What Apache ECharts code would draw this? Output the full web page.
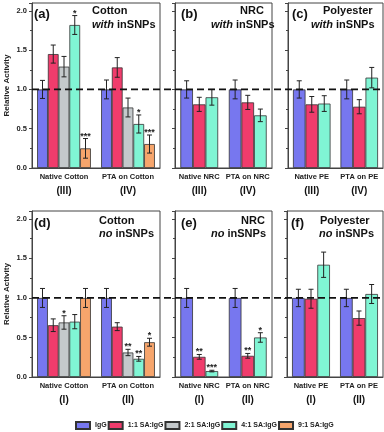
<!DOCTYPE html>
<html><head><meta charset="utf-8">
<script src="https://cdn.jsdelivr.net/npm/echarts@6/dist/echarts.min.js"></script>
<style>html,body{margin:0;padding:0;background:#fff}#c{width:384px;height:432px}</style>
</head><body><div id="c"></div>
<script>
// ---- data ----
var seriesNames = ['IgG', '1:1 SA:IgG', '2:1 SA:IgG', '4:1 SA:IgG', '9:1 SA:IgG'];
var seriesColors = ['#7777ef', '#f03c6c', '#c4c9cb', '#80f5d4', '#f6a56c'];
var yTicks = [0, 0.5, 1.0, 1.5, 2.0];

var catCotton = ['Native Cotton', 'PTA on Cotton'];
var catNRC = ['Native NRC', 'PTA on NRC'];
var catPE = ['Native PE', 'PTA on PE'];
var romanWith = ['(III)', '(IV)'];
var romanNo = ['(I)', '(II)'];

// panel (a) Cotton with inSNPs: series IgG,1:1,2:1,4:1,9:1; values per series [Native, PTA]
var aVals = [[1.0, 1.0], [1.45, 1.28], [1.29, 0.77], [1.82, 0.56], [0.25, 0.305]];
var aErr  = [[0.115, 0.12], [0.115, 0.125], [0.13, 0.12], [0.12, 0.115], [0.125, 0.115]];
var aStar = [['', ''], ['', ''], ['', ''], ['*', '*'], ['***', '***']];
// panel (b) NRC with inSNPs: IgG,1:1,4:1
var bVals = [[1.0, 1.0], [0.81, 0.835], [0.90, 0.67]];
var bErr  = [[0.11, 0.12], [0.09, 0.09], [0.10, 0.08]];
var bStar = [['', ''], ['', ''], ['', '']];
// panel (c) Polyester with inSNPs
var cVals = [[1.0, 1.0], [0.81, 0.78], [0.82, 1.15]];
var cErr  = [[0.11, 0.12], [0.10, 0.09], [0.10, 0.13]];
var cStar = [['', ''], ['', ''], ['', '']];
// panel (d) Cotton no inSNPs
var dVals = [[1.0, 1.0], [0.655, 0.637], [0.69, 0.31], [0.70, 0.23], [1.0, 0.44]];
var dErr  = [[0.12, 0.12], [0.08, 0.05], [0.085, 0.04], [0.09, 0.03], [0.12, 0.05]];
var dStar = [['', ''], ['', ''], ['*', '**'], ['', '**'], ['', '*']];
// panel (e) NRC no inSNPs
var eVals = [[1.0, 1.0], [0.255, 0.268], [0.075, 0.50]];
var eErr  = [[0.12, 0.12], [0.03, 0.03], [0.01, 0.06]];
var eStar = [['', ''], ['**', '**'], ['***', '*']];
// panel (f) Polyester no inSNPs
var fVals = [[1.0, 1.0], [0.99, 0.745], [1.42, 1.05]];
var fErr  = [[0.11, 0.11], [0.12, 0.09], [0.16, 0.12]];
var fStar = [['', ''], ['', ''], ['', '']];

var refLine = 1.0;

// ---- build ----
var panels = [
  {cats: catCotton, roman: romanWith, vals: aVals, err: aErr, star: aStar, ser: [0,1,2,3,4], left: 32, width: 128, top: 3, height: 165, ylab: true, gap: 0.16},
  {cats: catNRC, roman: romanWith, vals: bVals, err: bErr, star: bStar, ser: [0,1,3], left: 175, width: 97, top: 3, height: 165, ylab: false, gap: 0.22},
  {cats: catPE, roman: romanWith, vals: cVals, err: cErr, star: cStar, ser: [0,1,3], left: 288, width: 95, top: 3, height: 165, ylab: false, gap: 0.21},
  {cats: catCotton, roman: romanNo, vals: dVals, err: dErr, star: dStar, ser: [0,1,2,3,4], left: 32, width: 128, top: 211, height: 166, ylab: true, gap: 0.16},
  {cats: catNRC, roman: romanNo, vals: eVals, err: eErr, star: eStar, ser: [0,1,3], left: 175, width: 97, top: 211, height: 166, ylab: false, gap: 0.22},
  {cats: catPE, roman: romanNo, vals: fVals, err: fErr, star: fStar, ser: [0,1,3], left: 287, width: 96, top: 211, height: 166, ylab: false, gap: 0.21}
];

var FONT = 'Liberation Sans, Arial, sans-serif';
var grids = [], xAxes = [], yAxes = [], series = [];

panels.forEach(function (p, pi) {
  grids.push({left: p.left, width: p.width, top: p.top, height: p.height, show: true, borderColor: '#444', borderWidth: 1, containLabel: false});
  (function (cats, roman) {
    xAxes.push({
      type: 'category', gridIndex: pi, data: cats,
      axisLine: {lineStyle: {color: '#444', width: 1}},
      axisTick: {alignWithLabel: true, length: 3, lineStyle: {color: '#444'}},
      axisLabel: {
        margin: 3, color: '#222', fontFamily: FONT, interval: 0,
        formatter: function (v, idx) { return '{a|' + v + '}\n{b|' + roman[idx] + '}'; },
        rich: {a: {fontSize: 7.5, fontWeight: 'bold', lineHeight: 11, fontFamily: FONT, color: '#222'},
               b: {fontSize: 10, fontWeight: 'bold', lineHeight: 18, fontFamily: FONT, color: '#111'}}
      }
    });
  })(p.cats, p.roman);
  yAxes.push({
    type: 'value', gridIndex: pi, min: 0, max: 2.1, interval: 0.5,
    name: p.ylab ? 'Relative Activity' : '', nameLocation: 'middle', nameGap: 21,
    nameTextStyle: {fontSize: 8, fontWeight: 'bold', fontFamily: FONT, color: '#222'},
    axisLine: {show: true, lineStyle: {color: '#444', width: 1}},
    axisTick: {show: true, length: 3, lineStyle: {color: '#444'}},
    minorTick: {show: true, splitNumber: 2, length: 2, lineStyle: {color: '#444'}},
    splitLine: {show: false},
    axisLabel: {show: p.ylab, fontSize: 7.5, fontWeight: 'bold', fontFamily: FONT, color: '#222', margin: 5,
      formatter: function (v) { return yTicks.indexOf(v) >= 0 ? v.toFixed(1) : ''; }}
  });
  var n = p.ser.length;
  var errData = [];
  p.ser.forEach(function (si, k) {
    series.push({
      type: 'bar', name: seriesNames[si], xAxisIndex: pi, yAxisIndex: pi,
      data: p.vals[k], barGap: 0, barCategoryGap: (p.gap * 100) + '%',
      itemStyle: {color: seriesColors[si], borderColor: '#333', borderWidth: 0.8},
      emphasis: {disabled: true}, animation: false
    });
    for (var c = 0; c < 2; c++) {
      errData.push([c, p.vals[k][c], p.err[k][c], k, n, p.star[k][c]]);
    }
  });
  (function (gap) {
    series.push({
      type: 'custom', xAxisIndex: pi, yAxisIndex: pi, data: errData, z: 10, clip: false, animation: false,
      renderItem: function (params, api) {
        var c = api.value(0), v = api.value(1), e = api.value(2), k = api.value(3), nn = api.value(4);
        var star = errData[params.dataIndex][5];
        var band = api.size([1, 0])[0];
        var gw = band * (1 - gap), bw = gw / nn;
        var center = api.coord([c, v]);
        var x = center[0] - gw / 2 + (k + 0.5) * bw;
        var yt = api.coord([c, v + e])[1], yb = api.coord([c, v - e])[1];
        var cw = 2.5;
        var st = {stroke: '#222', lineWidth: 1};
        var children = [
          {type: 'line', shape: {x1: x, y1: yt, x2: x, y2: yb}, style: st},
          {type: 'line', shape: {x1: x - cw, y1: yt, x2: x + cw, y2: yt}, style: st},
          {type: 'line', shape: {x1: x - cw, y1: yb, x2: x + cw, y2: yb}, style: st}
        ];
        if (star) {
          children.push({type: 'text', style: {text: star, x: x, y: yt + 2, align: 'center', verticalAlign: 'bottom',
            fontSize: 9, fontWeight: 'bold', fontFamily: FONT, fill: '#222'}});
        }
        return {type: 'group', children: children};
      }
    });
  })(p.gap);
});

// dashed reference line across each row
[[3, 165], [211, 166]].forEach(function (r, ri) {
  var gi = grids.length;
  grids.push({left: 32, width: 351, top: r[0], height: r[1], show: false});
  xAxes.push({type: 'value', gridIndex: gi, min: 0, max: 1, show: false});
  yAxes.push({type: 'value', gridIndex: gi, min: 0, max: 2.1, show: false});
  series.push({type: 'line', xAxisIndex: gi, yAxisIndex: gi, data: [[0, refLine], [1, refLine]], symbol: 'none', z: 20,
    lineStyle: {color: '#111', width: 1.8, type: [7, 4]}, silent: true, animation: false});
});

function t(x, y, text, size, align) {
  return {type: 'text', x: x, y: y, style: {text: text, fontSize: size, fontWeight: 'bold', fontFamily: FONT, fill: '#111',
    align: align || 'left', verticalAlign: 'middle',
    rich: {i: {fontStyle: 'italic', fontWeight: 'bold', fontSize: size, fontFamily: FONT, fill: '#111'}}}};
}
var graphics = [
  t(34, 14, '(a)', 13), t(92, 11, 'Cotton', 11), t(92, 25, '{i|with} inSNPs', 11),
  t(181, 14, '(b)', 13), t(240, 11, 'NRC', 11), t(211, 25, '{i|with} inSNPs', 11),
  t(292, 14, '(c)', 13), t(323, 11, 'Polyester', 11), t(311, 25, '{i|with} inSNPs', 11),
  t(34, 223, '(d)', 13), t(99, 221, 'Cotton', 11), t(99, 234, '{i|no} inSNPs', 11),
  t(181, 223, '(e)', 13), t(241, 221, 'NRC', 11), t(211, 234, '{i|no} inSNPs', 11),
  t(291, 223, '(f)', 13), t(320, 221, 'Polyester', 11), t(319, 234, '{i|no} inSNPs', 11)
];

var chart = echarts.init(document.getElementById('c'), null, {renderer: 'canvas'});
chart.setOption({
  animation: false,
  grid: grids, xAxis: xAxes, yAxis: yAxes, series: series, graphic: graphics,
  legend: {data: seriesNames, left: 75, top: 421, itemWidth: 14, itemHeight: 7, itemGap: 1, padding: 0,
    icon: 'rect', selectedMode: false,
    textStyle: {fontSize: 7, fontWeight: 'bold', fontFamily: FONT, color: '#222'}}
});
</script></body></html>
